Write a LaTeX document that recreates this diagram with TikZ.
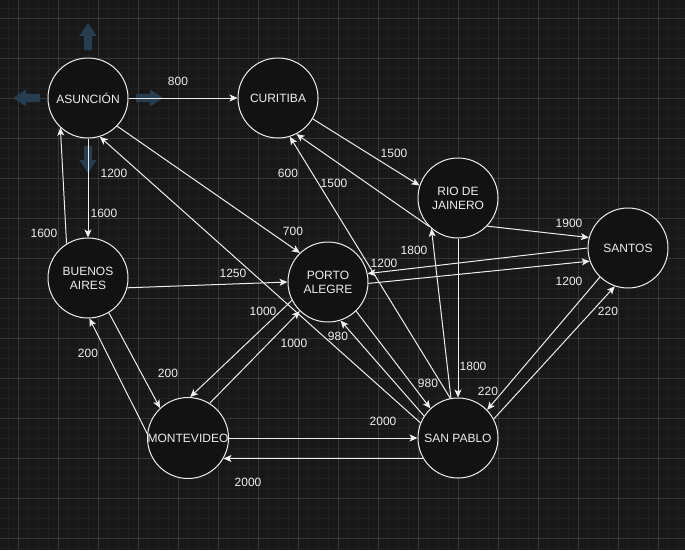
\documentclass[tikz,border=0pt]{standalone}
\usepackage{fontspec}
\setmainfont{Liberation Sans}
\usetikzlibrary{arrows.meta}
\definecolor{bgc}{RGB}{24,24,24}
\definecolor{minorc}{RGB}{32,32,32}
\definecolor{majorc}{RGB}{54,54,54}
\definecolor{nodefill}{RGB}{18,18,18}
\definecolor{fg}{RGB}{238,238,238}
\definecolor{hoverc}{RGB}{38,62,80}
\begin{document}
\begin{tikzpicture}[x=1pt,y=-1pt,
  city/.style={circle, draw=fg, fill=nodefill, line width=1pt, minimum size=80pt,
    inner sep=0pt, font=\fontsize{12}{14}\selectfont, text=fg, align=center},
  link/.style={draw=fg, line width=1pt, -{Stealth[length=8pt,width=7pt,inset=2pt]}},
  lab/.style={text=fg, font=\fontsize{12}{14}\selectfont, inner sep=0pt},
  hoverarrow/.style={fill=hoverc}]
\fill[bgc] (0,0) rectangle (685,550);
\useasboundingbox (0,0) rectangle (685,550);
\foreach \x in {8,18,...,678} \draw[minorc, line width=1pt] (\x,0) -- (\x,550);
\foreach \y in {8,18,...,548} \draw[minorc, line width=1pt] (0,\y) -- (685,\y);
\foreach \x in {18,58,...,658} \draw[majorc, line width=1pt] (\x,0) -- (\x,550);
\foreach \y in {18,58,...,538} \draw[majorc, line width=1pt] (0,\y) -- (685,\y);

% hover arrows around ASUNCION
\foreach \a in {0,90,180,270}
  \fill[hoverarrow, rotate around={\a:(88,98)}] (88,23) -- (96.5,36) -- (92,36) -- (92,50)
     -- (84,50) -- (84,36) -- (79.5,36) -- cycle;

% cities
\node[city] (asu) at (88,98) {ASUNCIÓN};
\node[city] (cur) at (278,98) {CURITIBA};
\node[city] (rio) at (458,198) {RIO DE\\JAINERO};
\node[city] (san) at (628,248) {SANTOS};
\node[city] (ba) at (88,278) {BUENOS\\AIRES};
\node[city] (pa) at (328,282) {PORTO\\ALEGRE};
\node[city] (mv) at (188,438) {MONTEVIDEO};
\node[city] (sp) at (458,438) {SAN PABLO};

% connectors
\draw[link] (asu.0) -- (cur.180);
\draw[link] (cur.-31) -- (rio.162);
\draw[link] (rio.-135) -- (cur.-63);
\draw[link] (sp.101) -- (cur.-73);
\draw[link] (asu.-90) -- (ba.90);
\draw[link] (ba.122) -- (asu.-133);
\draw[link] (asu.-44) -- (pa.134);
\draw[link] (sp.158) -- (asu.-73);
\draw[link] (ba.-14) -- (pa.180);
\draw[link] (pa.-153) -- (mv.87);
\draw[link] (mv.58) -- (pa.-134);
\draw[link] (ba.-59) -- (mv.133);
\draw[link] (mv.174) -- (ba.-88);
\draw[link] (mv.0) -- (sp.180);
\draw[link] (sp.-150) -- (mv.-30);
\draw[link] (pa.-46) -- (sp.133);
\draw[link] (sp.147) -- (pa.-72);
\draw[link] (rio.-90) -- (sp.90);
\draw[link] (sp.100) -- (rio.-131);
\draw[link] (rio.-44) -- (san.165);
\draw[link] (san.180) -- (pa.12);
\draw[link] (pa.-2) -- (san.-161);
\draw[link] (san.-134) -- (sp.44);
\draw[link] (sp.28) -- (san.-109);

% labels
\node[lab] (l1) at (178,81) {800};
\node[lab] (l2) at (114,173) {1200};
\node[lab] (l3) at (104,213) {1600};
\node[lab] (l4) at (44,233) {1600};
\node[lab] (l5) at (394,153) {1500};
\node[lab] (l6) at (288,173) {600};
\node[lab] (l7) at (334,183) {1500};
\node[lab] (l8) at (293,231) {700};
\node[lab] (l9) at (414,250) {1800};
\node[lab] (l10) at (569,223) {1900};
\node[lab] (l11) at (569,281) {1200};
\node[lab] (l12) at (608,311) {220};
\node[lab] (l13) at (233,273) {1250};
\node[lab] (l14) at (263,311) {1000};
\node[lab] (l15) at (294,343) {1000};
\node[lab] (l16) at (338,336) {980};
\node[lab] (l17) at (88,353) {200};
\node[lab] (l18) at (168,373) {200};
\node[lab] (l19) at (384,263) {1200};
\node[lab] (l20) at (473,366) {1800};
\node[lab] (l21) at (428,383) {980};
\node[lab] (l22) at (488,391) {220};
\node[lab] (l23) at (383,421) {2000};
\node[lab] (l24) at (248,482) {2000};
\end{tikzpicture}
\end{document}
